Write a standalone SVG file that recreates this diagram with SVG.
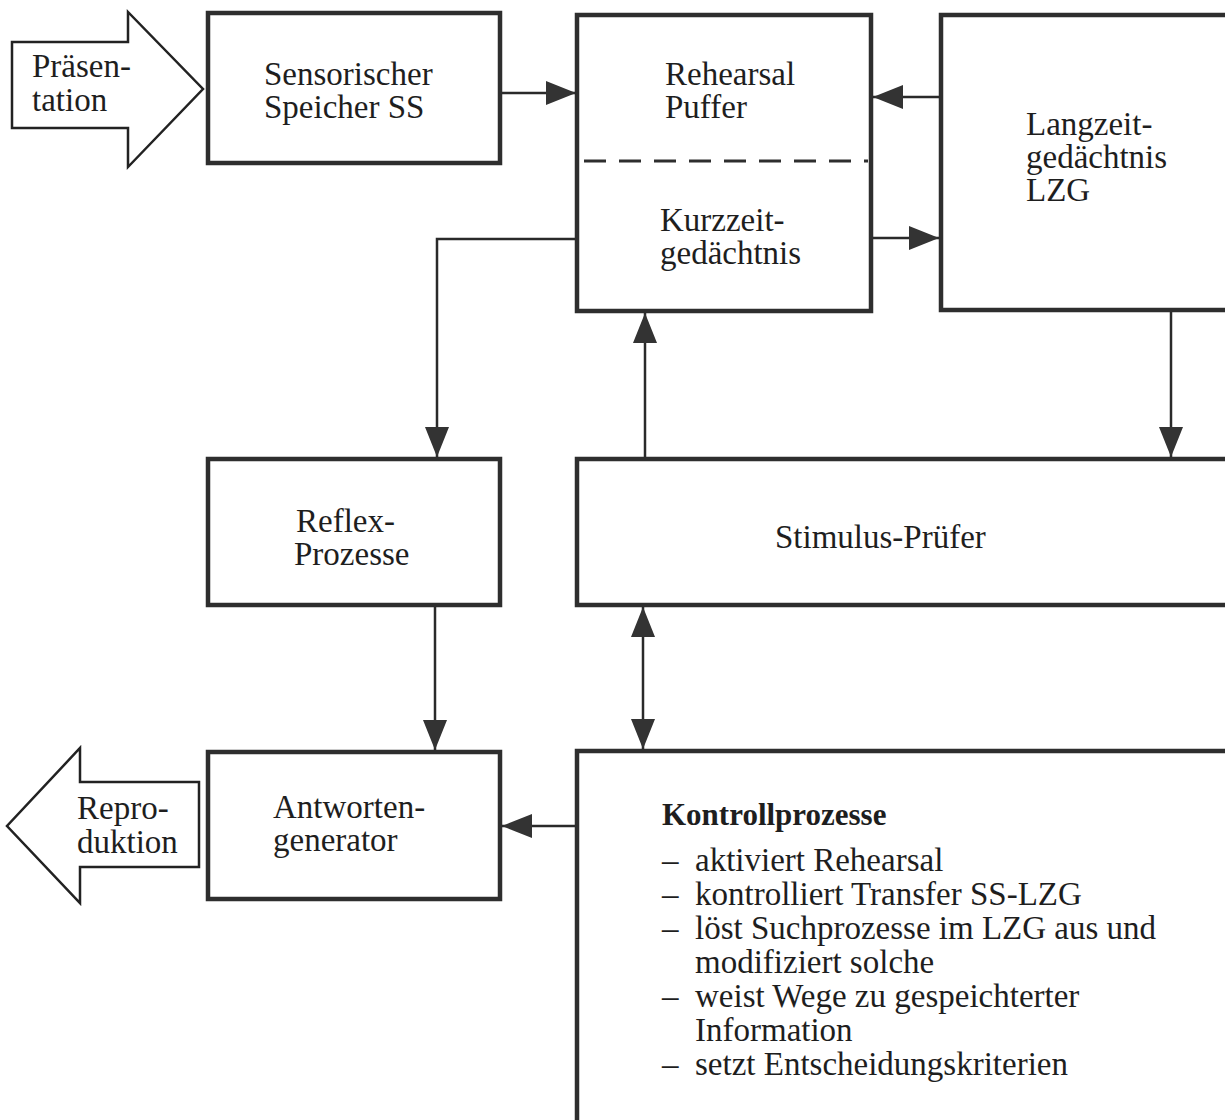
<svg xmlns="http://www.w3.org/2000/svg" width="1225" height="1120" viewBox="0 0 1225 1120">
<style>
text{font-family:"Liberation Serif","Times New Roman",serif;font-size:33px;fill:#1e1e1e}
.box{fill:#fff;stroke:#2e2e2e;stroke-width:4.5}
.big{fill:#fff;stroke:#222;stroke-width:2.5;stroke-linejoin:miter}
.con{fill:none;stroke:#2a2a2a;stroke-width:2.5}
.b{font-weight:bold;font-size:31px}
</style>
<defs>
<marker id="ah" markerUnits="userSpaceOnUse" markerWidth="30" markerHeight="26" refX="30" refY="12" orient="auto-start-reverse" viewBox="0 0 30 24">
<path d="M0,0 L30,12 L0,24 z" fill="#333"/>
</marker>
</defs>
<rect width="1225" height="1120" fill="#fff"/>

<g id="praesentation">
<polygon class="big" points="12,42 128,42 128,12 203,89 128,167 128,128 12,128"/>
<text x="32" y="77">Präsen-</text>
<text x="32" y="111">tation</text>
</g>

<g id="ss">
<rect class="box" x="208" y="13" width="292" height="150"/>
<text x="264" y="85">Sensorischer</text>
<text x="264" y="118">Speicher SS</text>
</g>

<g id="kzg">
<rect class="box" x="577" y="15" width="294" height="296"/>
<line x1="580" y1="161" x2="868" y2="161" stroke="#2e2e2e" stroke-width="3" stroke-dasharray="22 13" stroke-dashoffset="-4"/>
<text x="665" y="85">Rehearsal</text>
<text x="665" y="118">Puffer</text>
<text x="660" y="231">Kurzzeit-</text>
<text x="660" y="264">gedächtnis</text>
</g>

<g id="lzg">
<rect class="box" x="941" y="15" width="300" height="295"/>
<text x="1026" y="135">Langzeit-</text>
<text x="1026" y="168">gedächtnis</text>
<text x="1026" y="201">LZG</text>
</g>

<g id="reflex">
<rect class="box" x="208" y="459" width="292" height="146"/>
<text x="296" y="532">Reflex-</text>
<text x="294" y="565">Prozesse</text>
</g>

<g id="stimulus">
<rect class="box" x="577" y="459" width="664" height="146"/>
<text x="775" y="548">Stimulus-Prüfer</text>
</g>

<g id="antworten">
<rect class="box" x="208" y="752" width="292" height="147"/>
<text x="273" y="818">Antworten-</text>
<text x="273" y="851">generator</text>
</g>

<g id="reproduktion">
<polygon class="big" points="199,782 80,782 80,748 7,826 80,903 80,867 199,867"/>
<text x="77" y="819">Repro-</text>
<text x="77" y="853">duktion</text>
</g>

<g id="kontroll">
<rect class="box" x="577" y="751" width="664" height="400"/>
<text class="b" x="662" y="825">Kontrollprozesse</text>
<text x="662" y="871">–</text><text x="695" y="871">aktiviert Rehearsal</text>
<text x="662" y="905">–</text><text x="695" y="905">kontrolliert Transfer SS-LZG</text>
<text x="662" y="939">–</text><text x="695" y="939">löst Suchprozesse im LZG aus und</text>
<text x="695" y="973">modifiziert solche</text>
<text x="662" y="1007">–</text><text x="695" y="1007">weist Wege zu gespeichterter</text>
<text x="695" y="1041">Information</text>
<text x="662" y="1075">–</text><text x="695" y="1075">setzt Entscheidungskriterien</text>
</g>

<g id="connectors">
<line class="con" x1="502" y1="93" x2="576" y2="93" marker-end="url(#ah)"/>
<line class="con" x1="939" y1="97" x2="873" y2="97" marker-end="url(#ah)"/>
<line class="con" x1="873" y1="238" x2="939" y2="238" marker-end="url(#ah)"/>
<polyline class="con" points="575,239 437,239 437,457" marker-end="url(#ah)"/>
<line class="con" x1="645" y1="457" x2="645" y2="313" marker-end="url(#ah)"/>
<line class="con" x1="1171" y1="312" x2="1171" y2="457" marker-end="url(#ah)"/>
<line class="con" x1="435" y1="607" x2="435" y2="750" marker-end="url(#ah)"/>
<line class="con" x1="643" y1="607" x2="643" y2="749" marker-start="url(#ah)" marker-end="url(#ah)"/>
<line class="con" x1="575" y1="826" x2="502" y2="826" marker-end="url(#ah)"/>
</g>
</svg>
